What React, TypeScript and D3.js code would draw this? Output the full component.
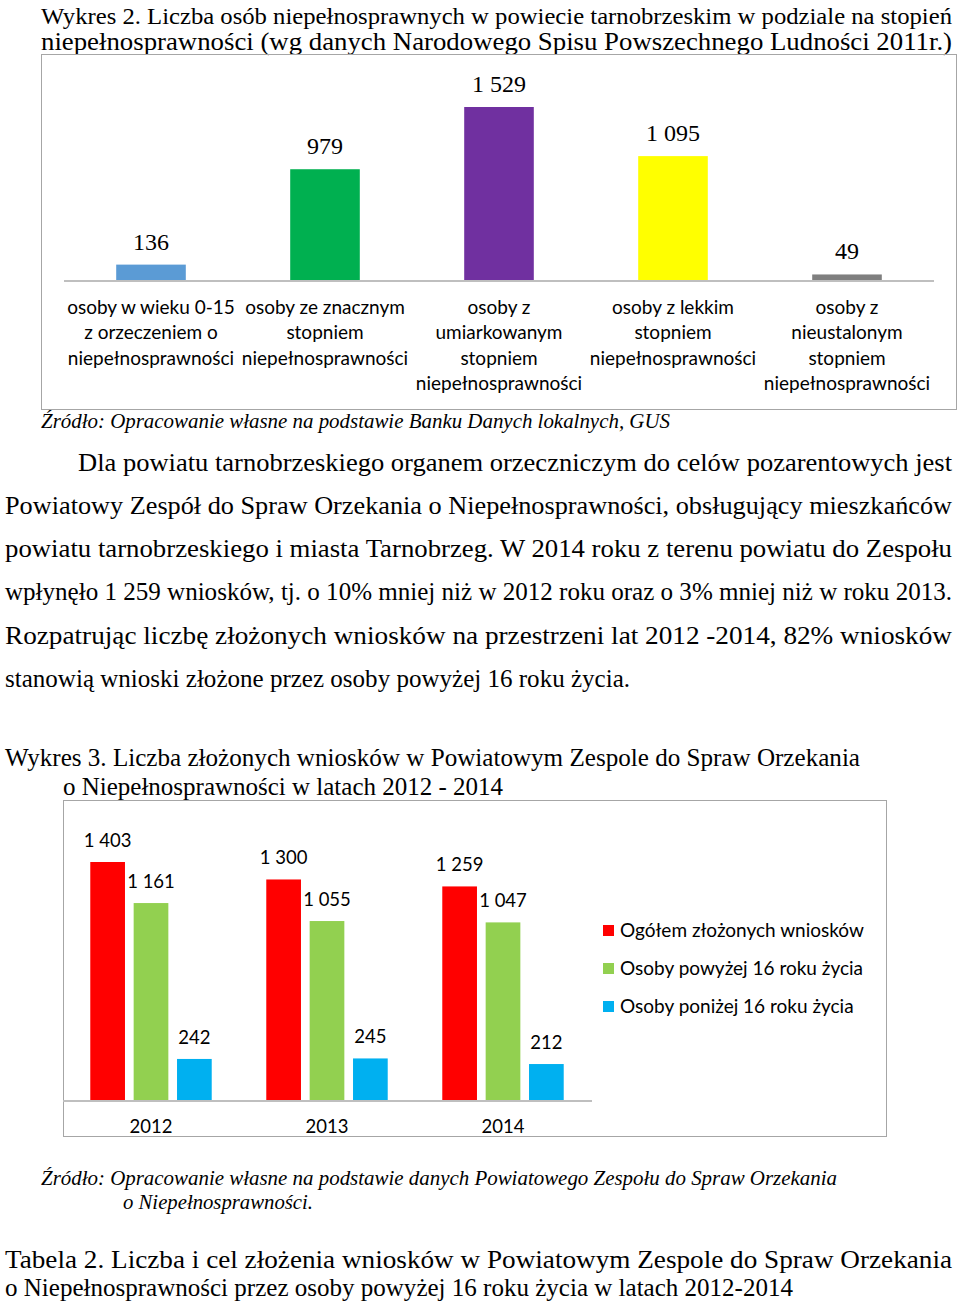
import React from "react";
import * as d3 from "d3";

// ---- Data: Wykres 2 ----
const disabilityCategories: string[][] = [
  ["osoby w wieku 0-15", "z orzeczeniem o", "niepełnosprawności"],
  ["osoby ze znacznym", "stopniem", "niepełnosprawności"],
  ["osoby z", "umiarkowanym", "stopniem", "niepełnosprawności"],
  ["osoby z lekkim", "stopniem", "niepełnosprawności"],
  ["osoby z", "nieustalonym", "stopniem", "niepełnosprawności"],
];
const disabilityValues = [136, 979, 1529, 1095, 49];
const disabilityColors = ["#5B9BD5", "#00B050", "#7030A0", "#FFFF00", "#7F7F7F"];

// ---- Data: Wykres 3 ----
const years = ["2012", "2013", "2014"];
const seriesNames = [
  "Ogółem złożonych wniosków",
  "Osoby powyżej 16 roku życia",
  "Osoby poniżej 16 roku życia",
];
const totalApps = [1403, 1300, 1259];
const over16Apps = [1161, 1055, 1047];
const under16Apps = [242, 245, 212];
const seriesColors = ["#FF0000", "#92D050", "#00B0F0"];

const fmt = (v: number) => d3.format(",")(v).replace(/,/g, " ");

const SERIF = "'Liberation Serif', 'Times New Roman', serif";
const SANS = "Lato, 'Open Sans', sans-serif";

type Line = { t: string; x: number; y: number; w?: number; size: number; italic?: boolean };

const docLines: Line[] = [
  { t: "Wykres 2. Liczba osób niepełnosprawnych w powiecie tarnobrzeskim w podziale na stopień", x: 41, y: 24, w: 911, size: 24 },
  { t: "niepełnosprawności (wg danych Narodowego Spisu Powszechnego Ludności 2011r.)", x: 41, y: 50, w: 911, size: 25 },
  { t: "Źródło: Opracowanie własne na podstawie Banku Danych lokalnych, GUS", x: 41, y: 428, w: 629, size: 20, italic: true },
  { t: "Dla powiatu tarnobrzeskiego organem orzeczniczym do celów pozarentowych jest", x: 78, y: 471, w: 874, size: 25 },
  { t: "Powiatowy Zespół do Spraw Orzekania o Niepełnosprawności, obsługujący mieszkańców", x: 5, y: 514, w: 947, size: 25 },
  { t: "powiatu tarnobrzeskiego i miasta Tarnobrzeg. W 2014 roku z terenu powiatu do Zespołu", x: 5, y: 557, w: 947, size: 25 },
  { t: "wpłynęło 1 259 wniosków, tj. o 10% mniej niż w 2012 roku oraz o 3% mniej niż w roku 2013.", x: 5, y: 600, w: 947, size: 25 },
  { t: "Rozpatrując liczbę złożonych wniosków na przestrzeni lat 2012 -2014, 82% wniosków", x: 5, y: 644, w: 947, size: 25 },
  { t: "stanowią wnioski złożone przez osoby powyżej 16 roku życia.", x: 5, y: 687, w: 625, size: 25 },
  { t: "Wykres 3. Liczba złożonych wniosków w Powiatowym Zespole do Spraw Orzekania", x: 5, y: 766, w: 855, size: 25 },
  { t: "o Niepełnosprawności w latach 2012 - 2014", x: 63, y: 795, w: 440, size: 25 },
  { t: "Źródło: Opracowanie własne na podstawie danych Powiatowego Zespołu do Spraw Orzekania", x: 41, y: 1185, w: 796, size: 20, italic: true },
  { t: "o Niepełnosprawności.", x: 123, y: 1209, w: 190, size: 20, italic: true },
  { t: "Tabela 2. Liczba i cel złożenia wniosków w Powiatowym Zespole do Spraw Orzekania", x: 5, y: 1268, w: 947, size: 25 },
  { t: "o Niepełnosprawności przez osoby powyżej 16 roku życia w latach 2012-2014", x: 5, y: 1296, w: 788, size: 25 },
];

export default function App() {
  // Chart 1 scales
  const x1 = d3
    .scaleBand<number>()
    .domain(d3.range(disabilityValues.length))
    .range([64, 934])
    .paddingInner(0.6)
    .paddingOuter(0.3);
  const base1 = 280;
  const y1 = d3.scaleLinear().domain([0, 1529]).range([base1, 107]);

  // Chart 2 scales
  const x2 = d3.scaleBand<string>().domain(years).range([63, 591]).paddingInner(0.31).paddingOuter(0.155);
  const xs = d3.scaleBand<number>().domain([0, 1, 2]).range([0, x2.bandwidth()]).paddingInner(0.2);
  const base2 = 1100;
  const y2 = d3.scaleLinear().domain([0, 1403]).range([base2, 862]);
  const series = [totalApps, over16Apps, under16Apps];

  return (
    <div style={{ position: "absolute", left: 0, top: 0 }}>
      <svg width={960} height={1301} style={{ display: "block", background: "#fff" }}>
        {/* document text */}
        {docLines.map((l, i) => (
          <text
            key={i}
            x={l.x}
            y={l.y}
            fontFamily={SERIF}
            fontSize={l.size}
            fontStyle={l.italic ? "italic" : "normal"}
            fill="#000"
            textLength={l.w}
            lengthAdjust="spacingAndGlyphs"
          >
            {l.t}
          </text>
        ))}

        {/* Chart 1 */}
        <rect x={41.5} y={54.5} width={915} height={355} fill="none" stroke="#a6a6a6" strokeWidth={1} />
        {disabilityValues.map((v, i) => (
          <g key={i}>
            <rect
              x={x1(i)}
              y={y1(v)}
              width={x1.bandwidth()}
              height={base1 - y1(v)}
              fill={disabilityColors[i]}
            />
            <text
              x={(x1(i) as number) + x1.bandwidth() / 2}
              y={y1(v) - 15}
              textAnchor="middle"
              fontFamily={SERIF}
              fontSize={24}
              fill="#000"
            >
              {fmt(v)}
            </text>
            {disabilityCategories[i].map((ln, j) => (
              <text
                key={j}
                x={(x1(i) as number) + x1.bandwidth() / 2}
                y={314 + j * 25.3}
                textAnchor="middle"
                fontFamily={SANS}
                fontSize={19}
                fill="#000"
              >
                {ln}
              </text>
            ))}
          </g>
        ))}
        <line x1={64} x2={934} y1={base1 + 1} y2={base1 + 1} stroke="#bfbfbf" strokeWidth={2} />

        {/* Chart 2 */}
        <rect x={63.5} y={800.5} width={823} height={336} fill="none" stroke="#a6a6a6" strokeWidth={1} />
        {years.map((yr, gi) => (
          <g key={yr} transform={`translate(${x2(yr)},0)`}>
            {series.map((s, si) => (
              <g key={si}>
                <rect
                  x={xs(si)}
                  y={y2(s[gi])}
                  width={xs.bandwidth()}
                  height={base2 - y2(s[gi])}
                  fill={seriesColors[si]}
                />
                <text
                  x={(xs(si) as number) + xs.bandwidth() / 2}
                  y={y2(s[gi]) - 15}
                  textAnchor="middle"
                  fontFamily={SANS}
                  fontSize={18.5}
                  fill="#000"
                >
                  {fmt(s[gi])}
                </text>
              </g>
            ))}
            <text
              x={x2.bandwidth() / 2}
              y={1133}
              textAnchor="middle"
              fontFamily={SANS}
              fontSize={18.5}
              fill="#000"
            >
              {yr}
            </text>
          </g>
        ))}
        <line x1={63} x2={592} y1={base2 + 1} y2={base2 + 1} stroke="#bfbfbf" strokeWidth={2} />

        {/* Legend */}
        {seriesNames.map((n, i) => (
          <g key={n} transform={`translate(603, ${925 + i * 38})`}>
            <rect x={0} y={0} width={11} height={11} fill={seriesColors[i]} />
            <text x={17} y={11.5} fontFamily={SANS} fontSize={19} fill="#000">
              {n}
            </text>
          </g>
        ))}
      </svg>
    </div>
  );
}
